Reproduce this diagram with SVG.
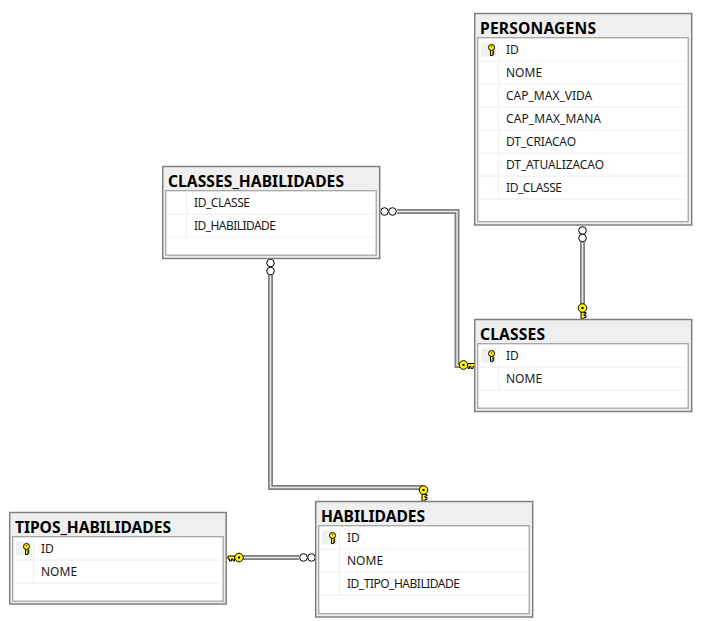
<svg xmlns="http://www.w3.org/2000/svg" width="704" height="621" viewBox="0 0 704 621">
<style>
.o{fill:#efefef;stroke:#7f7f7f;stroke-width:1.5}
.i{fill:#fff;stroke:#a6a6a6;stroke-width:1.3}
.s{stroke:#efefef;stroke-width:1.3;fill:none}
.t{font:bold 15.6px "Noto Sans","Open Sans",sans-serif;fill:#000}
.r{font:12px "Noto Sans","Open Sans",sans-serif;fill:#1a1a1a}
.w1{fill:none;stroke:#808080;stroke-width:5}
.w2{fill:none;stroke:#e8e8e8;stroke-width:1.5}
.c{fill:#fff;stroke:#000;stroke-width:1}
.k{fill:#ffef00;stroke:#000;stroke-width:1}
.hl{fill:#f0f0f0}
</style>
<defs>
<g id="rowkey">
<rect class="hl" x="-10.5" y="-7" width="15" height="14"/>
<g transform="translate(0 0)">
<path class="k" d="M-1 1V6H1.2V5H2.2V3.8H1.2V3H2.2V1.5H1.2V1Z"/>
<circle class="k" cx="0" cy="-2" r="3"/>
<rect x="-0.5" y="-3.2" width="1" height="1"/>
</g>
</g>
<g id="fkey">
<path d="M-1.5 4V11H1.5V9.5H3.5V7.5H1.5V6H3.5V4.5H1.5V4Z" class="k"/>
<circle class="k" cx="0" cy="0" r="4.3"/>
<rect x="-1" y="-1" width="2" height="2"/>
</g>
</defs>
<rect width="704" height="621" fill="#fff"/>
<g id="connectors">
<path class="w1" d="M397 211.5H457V365.5H464"/><path class="w2" d="M397 211.5H457V365.5H464"/>
<circle class="c" cx="384.5" cy="211.5" r="3.8"/><circle class="c" cx="392.5" cy="211.5" r="3.8"/>
<use href="#fkey" transform="translate(463.5 365) rotate(-90) scale(-1 1)"/>
<path class="w1" d="M582.5 242V305"/><path class="w2" d="M582.5 242V305"/>
<circle class="c" cx="582.5" cy="230.5" r="3.8"/><circle class="c" cx="582.5" cy="238" r="3.8"/>
<use href="#fkey" transform="translate(582.5 308)"/>
<path class="w1" d="M270.5 275V487.5H423.5"/><path class="w2" d="M270.5 275V487.5H423.5"/>
<circle class="c" cx="270.5" cy="263" r="3.8"/><circle class="c" cx="270.5" cy="271" r="3.8"/>
<use href="#fkey" transform="translate(423.5 490)"/>
<path class="w1" d="M240 557.5H299"/><path class="w2" d="M240 557.5H299"/>
<circle class="c" cx="303.5" cy="557.5" r="3.8"/><circle class="c" cx="311.5" cy="557.5" r="3.8"/>
<use href="#fkey" transform="translate(239 557.5) rotate(90)"/>
</g>
<g id="personagens">
<rect class="o" x="474.7" y="13.5" width="217" height="211.5"/>
<rect class="i" x="477.7" y="37.7" width="210.5" height="184"/>
<path class="s" d="M498.5 38.5V199M478.5 61.2H687.5M478.5 84.2H687.5M478.5 107.2H687.5M478.5 130.2H687.5M478.5 153.2H687.5M478.5 176.2H687.5M478.5 199.2H687.5"/>
<use href="#rowkey" transform="translate(491.5 49.5)"/>
<text class="t" x="480" y="33.5" textLength="116">PERSONAGENS</text>
<text class="r" x="506" y="54">ID</text><text class="r" x="506" y="77">NOME</text><text class="r" x="506" y="100">CAP_MAX_VIDA</text><text class="r" x="506" y="123" textLength="95">CAP_MAX_MANA</text><text class="r" x="506" y="146" textLength="70">DT_CRIACAO</text><text class="r" x="506" y="169" textLength="98">DT_ATUALIZACAO</text><text class="r" x="506" y="192" textLength="56">ID_CLASSE</text>
</g>
<g id="classes_habilidades">
<rect class="o" x="162.7" y="166.5" width="217" height="92"/>
<rect class="i" x="165.7" y="190.7" width="210.5" height="64.5"/>
<path class="s" d="M186.5 191.5V237M166.5 214.2H375.5M166.5 237.2H375.5"/>
<text class="t" x="168" y="186.5" textLength="176">CLASSES_HABILIDADES</text>
<text class="r" x="194" y="207" textLength="56">ID_CLASSE</text><text class="r" x="194" y="230" textLength="82">ID_HABILIDADE</text>
</g>
<g id="classes">
<rect class="o" x="474.7" y="319.5" width="217" height="92"/>
<rect class="i" x="477.7" y="343.7" width="210.5" height="64.5"/>
<path class="s" d="M498.5 344.5V390M478.5 367.2H687.5M478.5 390.2H687.5"/>
<use href="#rowkey" transform="translate(491.5 355.5)"/>
<text class="t" x="480" y="339.5" textLength="65">CLASSES</text>
<text class="r" x="506" y="360">ID</text><text class="r" x="506" y="383">NOME</text>
</g>
<g id="habilidades">
<rect class="o" x="315.7" y="501.5" width="217" height="115.5"/>
<rect class="i" x="318.7" y="525.7" width="210.5" height="88"/>
<path class="s" d="M339.5 526.5V595M319.5 549.2H528.5M319.5 572.2H528.5M319.5 595.2H528.5"/>
<use href="#rowkey" transform="translate(332.5 537.5)"/>
<text class="t" x="321" y="521.5" textLength="104">HABILIDADES</text>
<text class="r" x="347" y="542">ID</text><text class="r" x="347" y="565">NOME</text><text class="r" x="347" y="588" textLength="113">ID_TIPO_HABILIDADE</text>
</g>
<g id="tipos_habilidades">
<rect class="o" x="9.7" y="512.5" width="216.5" height="91.5"/>
<rect class="i" x="12.7" y="536.7" width="210.5" height="64.5"/>
<path class="s" d="M33.5 537.5V583M13.5 560.2H222.5M13.5 583.2H222.5"/>
<use href="#rowkey" transform="translate(26.5 548.5)"/>
<text class="t" x="15" y="532.5" textLength="156">TIPOS_HABILIDADES</text>
<text class="r" x="41" y="553">ID</text><text class="r" x="41" y="576">NOME</text>
</g>
</svg>
